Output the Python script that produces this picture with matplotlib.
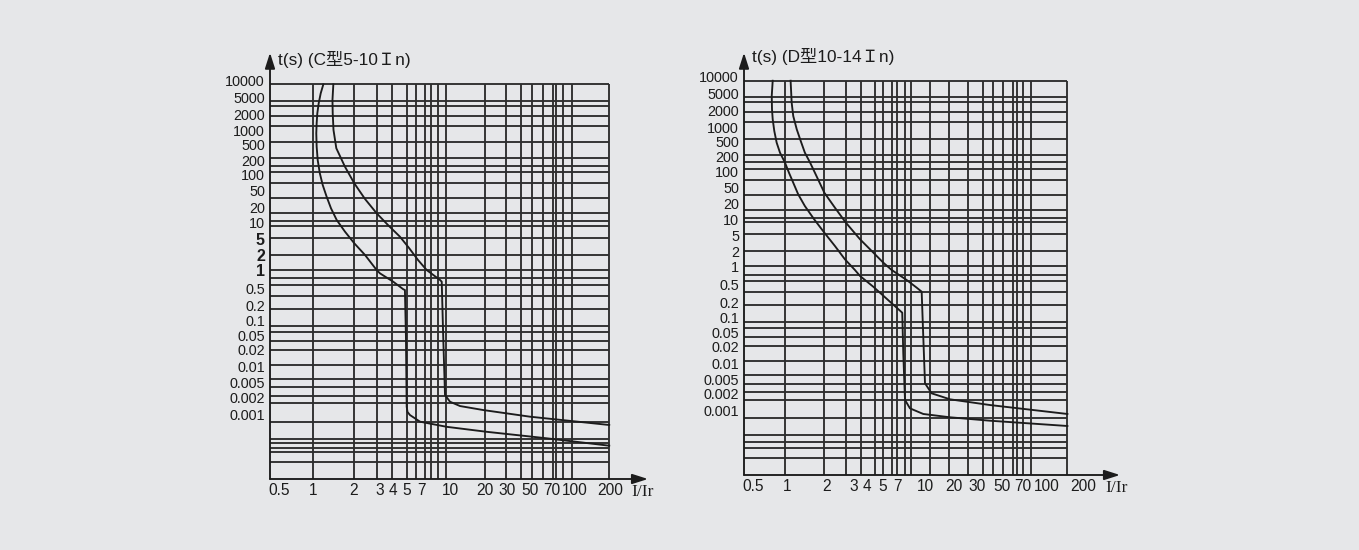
## Trip curves of C type and D type breakers, redrawn from a catalogue page.
import numpy as np
import matplotlib
matplotlib.use("Agg")
import matplotlib.pyplot as plt

plt.rcParams['font.family'] = ['Liberation Sans', 'Noto Sans CJK SC', 'DejaVu Sans']

######## Data ########
x_tick_vals = [0.5, 1, 2, 3, 4, 5, 7, 10, 20, 30, 50, 70, 100, 200]
x_tick_labels = ['0.5', '1', '2', '3', '4', '5', '7', '10', '20', '30', '50', '70', '100', '200']
y_tick_vals = [10000, 5000, 2000, 1000, 500, 200, 100, 50, 20, 10, 5, 2, 1,
               0.5, 0.2, 0.1, 0.05, 0.02, 0.01, 0.005, 0.002, 0.001]
y_tick_labels = ['10000', '5000', '2000', '1000', '500', '200', '100', '50', '20', '10', '5', '2', '1',
                 '0.5', '0.2', '0.1', '0.05', '0.02', '0.01', '0.005', '0.002', '0.001']

t_max = 8400   # top edge of the printed grid (s)

# horizontal grid lines, t (s) - same pattern on both charts
t_grid = [4150, 3150, 1840, 1230, 570, 222, 154, 113, 69, 33, 15.3, 10.6, 8.8, 5.35, 2.0, 1.0,
          0.73, 0.567, 0.339, 0.172, 0.0794, 0.0601, 0.0356, 0.02, 0.0107, 0.00587, 0.00375,
          0.00217, 0.00157, 0.00074, 0.000365, 0.000145]
c_t_grid_extra = [0.000307, 0.000256, 0.000218]
d_t_grid_extra = [0.000276, 0.000218]

# C type (5-10 In)
c_i_grid = [1.0, 2.03, 2.85, 3.97, 5.0, 6.17, 7.3, 7.87, 8.6, 9.47, 20, 29.1, 40.5, 51.3, 60.8,
            71.1, 74.8, 83.5, 95]
c_i_max = 197
c_low_i = [1.19, 1.137, 1.098, 1.072, 1.06, 1.053, 1.06, 1.079, 1.12, 1.177, 1.26, 1.359, 1.50,
           1.732, 2.03, 2.39, 2.85, 3.0, 4.04, 4.74, 4.86, 4.94, 5.0, 5.09, 5.38, 6.74, 9.6, 20.6,
           64.7, 197]
c_low_t = [8400, 5870, 3600, 2080, 1360, 881, 451, 200, 108, 64.3, 35.9, 19.1, 11.3,
           6.87, 3.96, 2.0, 1.0, 0.88, 0.64, 0.474, 0.457, 0.047, 0.00136, 0.0011, 0.00097, 0.00074,
           0.0006, 0.00049, 0.000376, 0.000278]
c_high_i = [1.415, 1.394, 1.40, 1.419, 1.49, 1.73, 2.03, 2.39, 2.85, 3.59, 4.49, 5.27, 6.44, 7.45,
            8.82, 9.01, 9.18, 9.39, 10, 12.2, 19.3, 50, 197]
c_high_t = [8400, 4310, 2080, 1030, 410, 147, 69.3, 31.6, 15.3, 9.09, 5.57, 3.01, 1.59, 1.0,
            0.685, 0.642, 0.047, 0.00231, 0.00167, 0.0014, 0.00119, 0.000907, 0.000647]

# D type (10-14 In)
d_i_grid = [0.965, 1.92, 2.65, 3.47, 4.48, 5.11, 6.17, 6.9, 7.73, 8.35, 11.3, 17.7, 25.6, 33.6, 41.9,
            51.3, 59.9, 63.1, 70, 78.7]
d_i_max = 149
d_low_i = [0.748, 0.733, 0.737, 0.748, 0.773, 0.812, 0.87, 0.965, 1.04, 1.12, 1.22, 1.37, 1.61,
           1.92, 2.26, 2.62, 3.06, 3.42, 4.37, 5.94, 7.46, 7.56, 7.73, 8.24, 9.78, 18.2, 39.1, 149]
d_low_t = [8400, 4410, 2120, 1380, 828, 462, 251, 150, 94.4, 60.7, 33.6, 18, 9.9,
           5.67, 2.74, 1.39, 0.873, 0.695, 0.45, 0.204, 0.1226, 0.015, 0.00155, 0.0011, 0.000875,
           0.000764, 0.000665, 0.000536]
d_high_i = [1.07, 1.09, 1.12, 1.19, 1.275, 1.37, 1.50, 1.63, 1.92, 2.26, 2.66, 3.42, 4.27, 5.11,
            6.17, 7.9, 8.99, 9.58, 9.78, 10, 11.7, 18.2, 39.1, 149]
d_high_t = [8400, 3050, 1585, 899, 510, 251, 150, 94.4, 36.7, 16.7, 8.6, 4.05, 2.05, 1.19,
            0.873, 0.597, 0.427, 0.346, 0.0372, 0.00384, 0.00205, 0.00159, 0.00126, 0.000875]

######## Layout ########
# the printed scales are not true log scales: place each tick label where the page has it
# (pixels from the y axis / from the top of the grid)
c_x_anchor = [9, 43.3, 83.3, 110, 122.7, 136.7, 151.7, 180, 215, 237.3, 260, 281.7, 305, 340]
d_x_anchor = [9.3, 42.7, 82.7, 110, 123.3, 138.3, 153.3, 181, 210, 233.3, 257.7, 279.3, 302.7, 338.7]
y_anchor = [4.3, -13, -29.7, -46.4, -60.7, -75.7, -90.7, -106.4, -123, -138.4, -155, -170.7, -185.7,
            -204, -221.4, -236.4, -251.4, -265.7, -282.4, -298.4, -313, -330]

BG = '#e6e7e9'
GRID = '#2e2e2e'
INK = '#1c1c1c'


def extrap(x, xp, fp):
    """np.interp that keeps going straight past both ends."""
    x = np.asarray(x, dtype=float)
    y = np.interp(x, xp, fp)
    s0 = (fp[1] - fp[0]) / (xp[1] - xp[0])
    s1 = (fp[-1] - fp[-2]) / (xp[-1] - xp[-2])
    y = np.where(x < xp[0], fp[0] + (x - xp[0]) * s0, y)
    y = np.where(x > xp[-1], fp[-1] + (x - xp[-1]) * s1, y)
    return y


def page_scale(vals, pos):
    lv = np.log10(np.asarray(vals, dtype=float))
    pos = np.asarray(pos, dtype=float)
    order = np.argsort(lv)
    lv, pos = lv[order], pos[order]

    def fwd(v):
        v = np.clip(np.asarray(v, dtype=float), 1e-12, None)
        return extrap(np.log10(v), lv, pos)

    def inv(p):
        return 10 ** extrap(p, pos, lv)
    return fwd, inv


def draw_chart(ax, title, i_grid, t_extra, i_max, x_anchor, curves, bold,
               width_px, grid_px, top_px, unit_x, unit_y, title_x, title_y):
    fx, ix = page_scale(x_tick_vals, x_anchor)
    fy, iy = page_scale(y_tick_vals, y_anchor)
    ax.set_xscale('function', functions=(fx, ix))
    ax.set_yscale('function', functions=(fy, iy))
    x0 = float(ix(0))
    y0 = float(iy(-grid_px))
    ax.set_xlim(x0, float(ix(width_px)))
    ax.set_ylim(y0, float(iy(top_px)))
    ax.set_facecolor(BG)

    # grid as printed on the page
    ax.vlines(i_grid + [i_max], y0, t_max, colors=GRID, lw=1.35, zorder=1)
    ax.hlines(t_grid + t_extra + [t_max], x0, i_max, colors=GRID, lw=1.35, zorder=1)

    for ci, ct in curves:
        ax.plot(ci, ct, color=INK, lw=1.35, zorder=3, solid_joinstyle='round')

    for s in ax.spines.values():
        s.set_visible(False)
    ax.set_xticks(x_tick_vals, x_tick_labels)
    ax.set_yticks(y_tick_vals, y_tick_labels)
    ax.minorticks_off()
    ax.tick_params(axis='x', length=0, pad=3, labelsize=11.2, labelcolor=INK)
    ax.tick_params(axis='y', length=0, pad=3.6, labelsize=10.4, labelcolor=INK)
    for lab in ax.get_yticklabels():
        if lab.get_text() in bold:
            lab.set_fontweight('bold')
            lab.set_fontsize(11.5)

    arrow = dict(arrowstyle='-|>,head_length=0.94,head_width=0.3', color=INK, lw=1.35,
                 shrinkA=0, shrinkB=0, mutation_scale=10)
    ax.annotate('', xy=(1, 0), xytext=(0, 0), xycoords='axes fraction', arrowprops=arrow,
                annotation_clip=False, zorder=4)
    ax.annotate('', xy=(0, 1), xytext=(0, 0), xycoords='axes fraction', arrowprops=arrow,
                annotation_clip=False, zorder=4)

    ax.text(unit_x, unit_y, 'I/Ir', transform=ax.transAxes, ha='center', va='center',
            fontsize=12.5, family='Liberation Serif', color=INK)
    ax.text(title_x, title_y, title, transform=ax.transAxes, ha='left', va='center',
            fontsize=12.4, color=INK)


fig = plt.figure(figsize=(13.59, 5.5), dpi=100, facecolor=BG)

ax_c = fig.add_axes([270 / 1359, 71 / 550, 378 / 1359, 426.3 / 550])
draw_chart(ax_c, 't(s) (C型5-10Ｉn)', c_i_grid, c_t_grid_extra, c_i_max, c_x_anchor,
           [(c_low_i, c_low_t), (c_high_i, c_high_t)], ['5', '2', '1'],
           378, 394.7, 31.6, 0.986, -0.030, 0.021, 0.983)

ax_d = fig.add_axes([744 / 1359, 75 / 550, 376 / 1359, 422.3 / 550])
draw_chart(ax_d, 't(s) (D型10-14Ｉn)', d_i_grid, d_t_grid_extra, d_i_max, d_x_anchor,
           [(d_low_i, d_low_t), (d_high_i, d_high_t)], [],
           376, 394.3, 28, 0.991, -0.0315, 0.0205, 0.992)

fig.savefig('out.png', dpi=100, facecolor=BG)
